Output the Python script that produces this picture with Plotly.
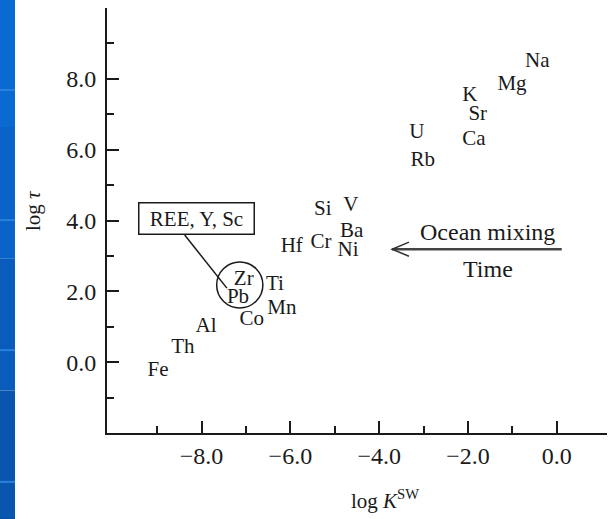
import plotly.graph_objects as go

# Element labels (log K^SW, log tau)
elements = ["Na", "Mg", "K", "Sr", "Ca", "U", "Rb", "Si", "V", "Ba", "Ni", "Cr", "Hf",
            "Zr", "Pb", "Ti", "Mn", "Co", "Al", "Th", "Fe"]
log_k = [-0.44, -1.01, -1.96, -1.78, -1.87, -3.15, -3.02, -5.27, -4.64, -4.62, -4.70, -5.31, -5.97,
         -7.05, -7.18, -6.35, -6.19, -6.87, -7.90, -8.42, -8.98]
log_tau = [8.47, 7.82, 7.51, 6.98, 6.27, 6.47, 5.68, 4.29, 4.41, 3.67, 3.16, 3.36, 3.25,
           2.34, 1.81, 2.20, 1.50, 1.21, 0.99, 0.42, -0.25]

x_tick_vals = [-8, -6, -4, -2, 0]
x_minor_vals = [-9, -7, -5, -3, -1]
y_tick_vals = [0, 2, 4, 6, 8]
y_minor_vals = [-1, 1, 3, 5, 7, 9]

FONT = "Liberation Serif"
INK = "#1a1a1a"

fig = go.Figure()
fig.add_trace(go.Scatter(
    x=log_k, y=log_tau, mode="text", text=elements,
    textposition="middle center",
    textfont=dict(family=FONT, size=21, color=INK),
    hoverinfo="skip", showlegend=False,
))

shapes = []
# blue slide strip on the left
blues = ["#0a6ad2", "#0963c8", "#095cbc", "#0956af", "#0a50a3"]
bounds = [1.02, 0.72, 0.41, 0.1, -0.2, -0.21]
for i, c in enumerate(blues):
    shapes.append(dict(type="rect", xref="paper", yref="paper",
                       x0=-0.216, x1=-0.184, y0=bounds[i + 1], y1=bounds[i],
                       fillcolor=c, line=dict(width=0), layer="below"))
for yy in [0.807, 0.501, 0.195, -0.115]:
    shapes.append(dict(type="line", xref="paper", yref="paper",
                       x0=-0.216, x1=-0.184, y0=yy, y1=yy,
                       line=dict(color="#2a80dd", width=2)))

# circle around Zr/Pb
shapes.append(dict(type="circle", xref="x", yref="y", x0=-7.66, x1=-6.62, y0=1.53, y1=2.83,
                   line=dict(color=INK, width=1.5)))
# leader line from box to circle
shapes.append(dict(type="line", xref="x", yref="y", x0=-8.38, y0=3.59, x1=-7.43, y1=2.09,
                   line=dict(color=INK, width=1.5)))
# arrow shaft and open head
shapes.append(dict(type="line", xref="x", yref="y", x0=-3.71, y0=3.19, x1=0.11, y1=3.19,
                   line=dict(color="#444444", width=2.5)))
shapes.append(dict(type="path", xref="x", yref="y",
                   path="M -3.33,3.39 L -3.71,3.19 L -3.33,2.99",
                   line=dict(color="#333333", width=1.5)))

annotations = [
    dict(x=-8.115, y=4.055, xref="x", yref="y", text="REE, Y, Sc", showarrow=False,
         font=dict(family=FONT, size=21, color=INK),
         bordercolor=INK, borderwidth=1.5, borderpad=2, width=110, height=26,
         bgcolor="white", xanchor="center", yanchor="middle"),
    dict(x=-1.57, y=3.67, xref="x", yref="y", text="Ocean mixing", showarrow=False,
         font=dict(family=FONT, size=24, color=INK), xanchor="center", yanchor="middle"),
    dict(x=-1.55, y=2.63, xref="x", yref="y", text="Time", showarrow=False,
         font=dict(family=FONT, size=24, color=INK), xanchor="center", yanchor="middle"),
    dict(x=(385 - 107) / 500, y=(433 - 499) / 425, xref="paper", yref="paper",
         text="log <i>K</i><sup>SW</sup>", showarrow=False,
         font=dict(family=FONT, size=21, color=INK), xanchor="center", yanchor="middle"),
    dict(x=(33 - 107) / 500, y=(433 - 211) / 425, xref="paper", yref="paper",
         text="log <i>τ</i>", showarrow=False, textangle=-90,
         font=dict(family=FONT, size=21, color=INK), xanchor="center", yanchor="middle"),
]

axis_common = dict(showgrid=False, zeroline=False, showline=True, linecolor=INK, linewidth=1.8,
                   ticks="inside", ticklen=12, tickwidth=1.6, tickcolor=INK,
                   tickfont=dict(family=FONT, size=24, color=INK), tickformat=".1f")

fig.update_layout(
    width=615, height=519,
    margin=dict(l=107, r=8, t=8, b=86),
    paper_bgcolor="white", plot_bgcolor="white",
    shapes=shapes, annotations=annotations,
    xaxis=dict(range=[-10.13, 1.13], tickmode="array", tickvals=x_tick_vals,
               minor=dict(tickmode="array", tickvals=x_minor_vals, ticks="inside",
                          ticklen=7, tickwidth=1.6, tickcolor=INK),
               ticklabelstandoff=0, **axis_common),
    yaxis=dict(range=[-2, 10], tickmode="array", tickvals=y_tick_vals,
               minor=dict(tickmode="array", tickvals=y_minor_vals, ticks="inside",
                          ticklen=7, tickwidth=1.6, tickcolor=INK),
               ticklabelstandoff=4, **axis_common),
)

fig.write_html("out.html", config={"displayModeBar": False},
               post_script="document.body.style.margin='0';")
